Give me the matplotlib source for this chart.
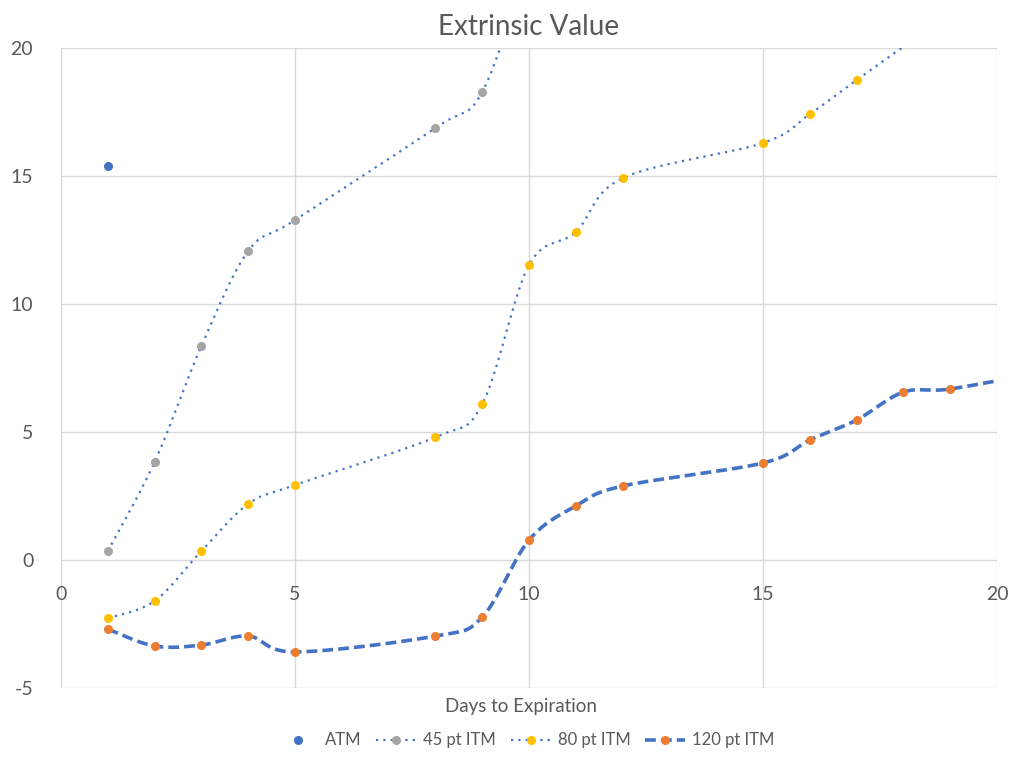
import numpy as np
import matplotlib.pyplot as plt
from matplotlib.lines import Line2D

plt.rcParams['font.family'] = ['Lato', 'DejaVu Sans']
plt.rcParams['axes.unicode_minus'] = False

# values
atm_x = [1]
atm_y = [15.39]

itm45_x = [1, 2, 3, 4, 5, 8, 9, 10]
itm45_y = [0.35, 3.83, 8.36, 12.07, 13.28, 16.88, 18.28, 23.5]

itm80_x = [1, 2, 3, 4, 5, 8, 9, 10, 11, 12, 15, 16, 17, 18]
itm80_y = [-2.27, -1.60, 0.35, 2.19, 2.93, 4.80, 6.09, 11.52, 12.81, 14.92,
           16.29, 17.42, 18.75, 20.05]

itm120_x = [1, 2, 3, 4, 5, 8, 9, 10, 11, 12, 15, 16, 17, 18, 19, 21]
itm120_y = [-2.70, -3.36, -3.32, -2.97, -3.59, -2.97, -2.23, 0.78, 2.11, 2.89,
            3.79, 4.69, 5.47, 6.56, 6.68, 7.35]

xticks = [0, 5, 10, 15, 20]
yticks = [-5, 0, 5, 10, 15, 20]

blue = '#4472C4'
gray = '#A5A5A5'
yellow = '#FFC000'
orange = '#ED7D31'
txt = '#595959'


def smooth(xs, ys, n=40):
    # excel-like smoothed line: bezier segments with catmull-rom control points
    p = np.column_stack([xs, ys]).astype(float)
    out = []
    for i in range(len(p) - 1):
        p0 = p[i - 1] if i > 0 else p[i]
        p1 = p[i]
        p2 = p[i + 1]
        p3 = p[i + 2] if i + 2 < len(p) else p[i + 1]
        c1 = p1 + (p2 - p0) / 6
        c2 = p2 - (p3 - p1) / 6
        t = np.linspace(0, 1, n)[:, None]
        seg = ((1 - t) ** 3) * p1 + 3 * ((1 - t) ** 2) * t * c1 + 3 * (1 - t) * t ** 2 * c2 + t ** 3 * p2
        out.append(seg if i == 0 else seg[1:])
    out = np.vstack(out)
    return out[:, 0], out[:, 1]


def markers(xs, ys, color):
    # points above the axis range are not drawn (like excel)
    x = np.array(xs, float)
    y = np.array(ys, float)
    keep = (y <= 20) & (x <= 20)
    ax.plot(x[keep], y[keep], 'o', color=color, ms=5.5, zorder=4)


fig = plt.figure(figsize=(10.24, 7.57), dpi=100)
ax = fig.add_axes([0.0596, 0.0911, 0.914, 0.8455])

dot = (0, (1, 2.3))
dash = (0, (3, 1.4))

markers(atm_x, atm_y, blue)

sx, sy = smooth(itm45_x, itm45_y)
ax.plot(sx, sy, color=blue, lw=1.6, ls=dot, zorder=3)
markers(itm45_x, itm45_y, gray)

sx, sy = smooth(itm80_x, itm80_y)
ax.plot(sx, sy, color=blue, lw=1.6, ls=dot, zorder=3)
markers(itm80_x, itm80_y, yellow)

sx, sy = smooth(itm120_x, itm120_y)
ax.plot(sx, sy, color=blue, lw=2.6, ls=dash, zorder=3)
markers(itm120_x, itm120_y, orange)

ax.set_xlim(0, 20)
ax.set_ylim(-5, 20)
ax.set_xticks(xticks)
ax.set_yticks(yticks)
ax.grid(True, color='#D9D9D9', lw=1)
ax.set_axisbelow(True)
for s in ax.spines.values():
    s.set_visible(False)
ax.spines['bottom'].set_position(('data', 0))
ax.tick_params(length=0, labelsize=14, labelcolor=txt)
ax.tick_params(axis='x', pad=19)
ax.tick_params(axis='y', pad=20)

ax.set_title('Extrinsic Value', fontsize=20, color=txt, pad=9)
fig.text(0.509, 0.067, 'Days to Expiration', ha='center', va='center',
         fontsize=13.5, color=txt)

handles = [
    Line2D([], [], ls='none', marker='o', color=blue, ms=5.5),
    Line2D([], [], ls=dot, lw=1.6, color=blue, marker='o', mfc=gray, mec=gray, ms=5.5),
    Line2D([], [], ls=dot, lw=1.6, color=blue, marker='o', mfc=yellow, mec=yellow, ms=5.5),
    Line2D([], [], ls=dash, lw=2.6, color=blue, marker='o', mfc=orange, mec=orange, ms=5.5),
]
labels = ['ATM', '45 pt ITM', '80 pt ITM', '120 pt ITM']
leg = fig.legend(handles, labels, loc='center', bbox_to_anchor=(0.514, 0.022), ncol=4,
                 frameon=False, fontsize=12, handlelength=2.4, columnspacing=0.9,
                 handletextpad=0.4, numpoints=1)
for t in leg.get_texts():
    t.set_color(txt)

fig.savefig('out.png', dpi=100)
